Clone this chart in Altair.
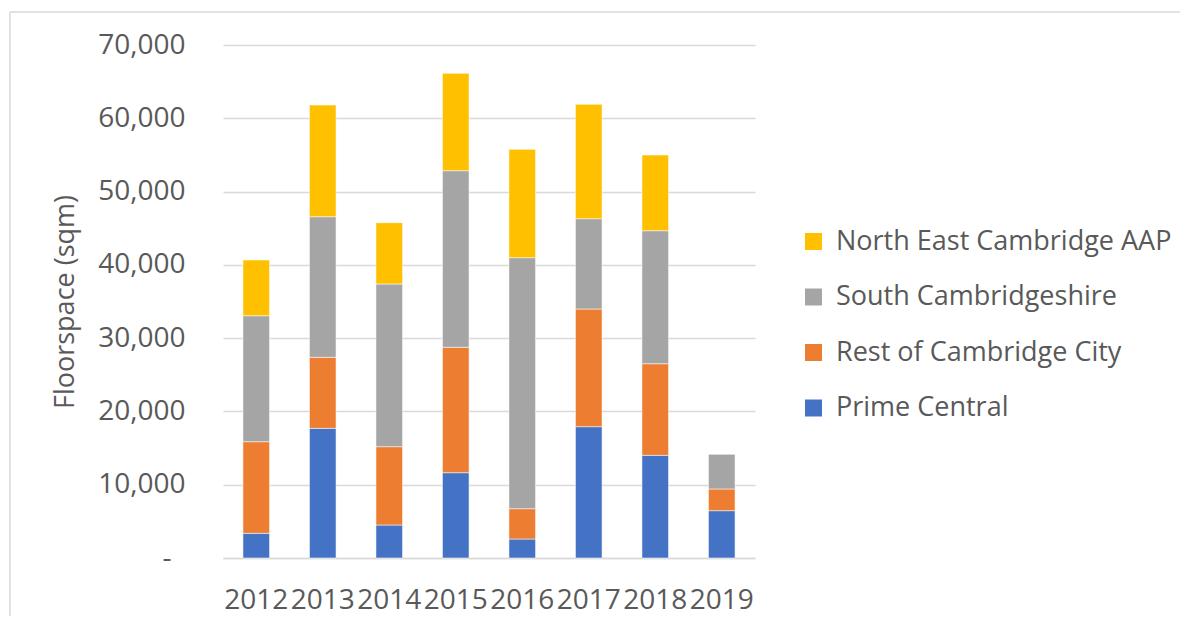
import altair as alt
import pandas as pd

years = ["2012", "2013", "2014", "2015", "2016", "2017", "2018", "2019"]
prime_central = [3370, 17690, 4500, 11640, 2590, 17920, 14010, 6460]
rest_of_city = [12500, 9690, 10690, 17110, 4140, 16060, 12500, 2960]
south_cambs = [17190, 19190, 22200, 24100, 34250, 12320, 18150, 4770]
north_east_aap = [7600, 15240, 8360, 13280, 14780, 15600, 10330, 0]

series_names = ["Prime Central", "Rest of Cambridge City", "South Cambridgeshire", "North East Cambridge AAP"]
series_values = [prime_central, rest_of_city, south_cambs, north_east_aap]
series_colors = ["#4472C4", "#ED7D31", "#A5A5A5", "#FFC000"]
y_ticks = [0, 10000, 20000, 30000, 40000, 50000, 60000, 70000]

rows = []
for i, (name, vals) in enumerate(zip(series_names, series_values)):
    for y, v in zip(years, vals):
        rows.append({"Year": y, "Area": name, "Floorspace": v, "idx": i})
df = pd.DataFrame(rows)

legend_order = list(reversed(series_names))
legend_colors = list(reversed(series_colors))

TEXT = "#595959"
GRID = "#D9D9D9"
FONT = "Open Sans"

bars = alt.Chart(df).mark_bar(stroke="white", strokeWidth=0.75, strokeOpacity=0.7).encode(
    x=alt.X("Year:N", sort=years,
            scale=alt.Scale(paddingInner=0.6, paddingOuter=0.3),
            axis=alt.Axis(title=None, labelAngle=0, ticks=False, labelPadding=28,
                          labelFontSize=28, labelColor=TEXT, labelFont=FONT,
                          domainColor=GRID, domainWidth=1.5, grid=False)),
    y=alt.Y("Floorspace:Q", stack="zero",
            scale=alt.Scale(domain=[0, 70000], nice=False),
            axis=alt.Axis(title="Floorspace (sqm)", values=y_ticks, ticks=False, domain=False,
                          labelExpr="datum.value == 0 ? '-' : format(datum.value, ',')",
                          labelFontSize=28, labelColor=TEXT, labelFont=FONT,
                          labelPadding=alt.condition("datum.value == 0", alt.value(52), alt.value(38)),
                          gridColor=GRID, gridWidth=1.5,
                          titleFontSize=27, titleColor=TEXT, titleFont=FONT, titleFontWeight="normal",
                          titleX=-158, titleBaseline="middle")),
    color=alt.Color("Area:N",
                    scale=alt.Scale(domain=legend_order, range=legend_colors),
                    legend=alt.Legend(title=None, orient="none", legendX=577, legendY=183,
                                      symbolType="square", symbolSize=289, symbolStrokeWidth=0,
                                      labelFontSize=27, labelColor=TEXT, labelFont=FONT,
                                      labelOffset=9, rowPadding=27.5, padding=0,
                                      labelLimit=500)),
    order=alt.Order("idx:Q", sort="ascending"),
)

border_top = alt.Chart(pd.DataFrame({"a": [0]})).mark_rule(color=GRID, strokeWidth=1.5).encode(
    x=alt.value(-213), x2=alt.value(980), y=alt.value(-33)
)
border_left = alt.Chart(pd.DataFrame({"a": [0]})).mark_rule(color=GRID, strokeWidth=1.5).encode(
    x=alt.value(-213), y=alt.value(-33), y2=alt.value(600)
)

chart = alt.layer(bars, border_top, border_left).properties(
    width=532, height=513,
    autosize=alt.AutoSizeParams(type="none"),
    padding={"left": 215, "top": 37, "right": 425, "bottom": 58},
    background="white",
).configure_view(stroke=None)

chart.save("out.html", embed_options={"renderer": "svg", "actions": False})
